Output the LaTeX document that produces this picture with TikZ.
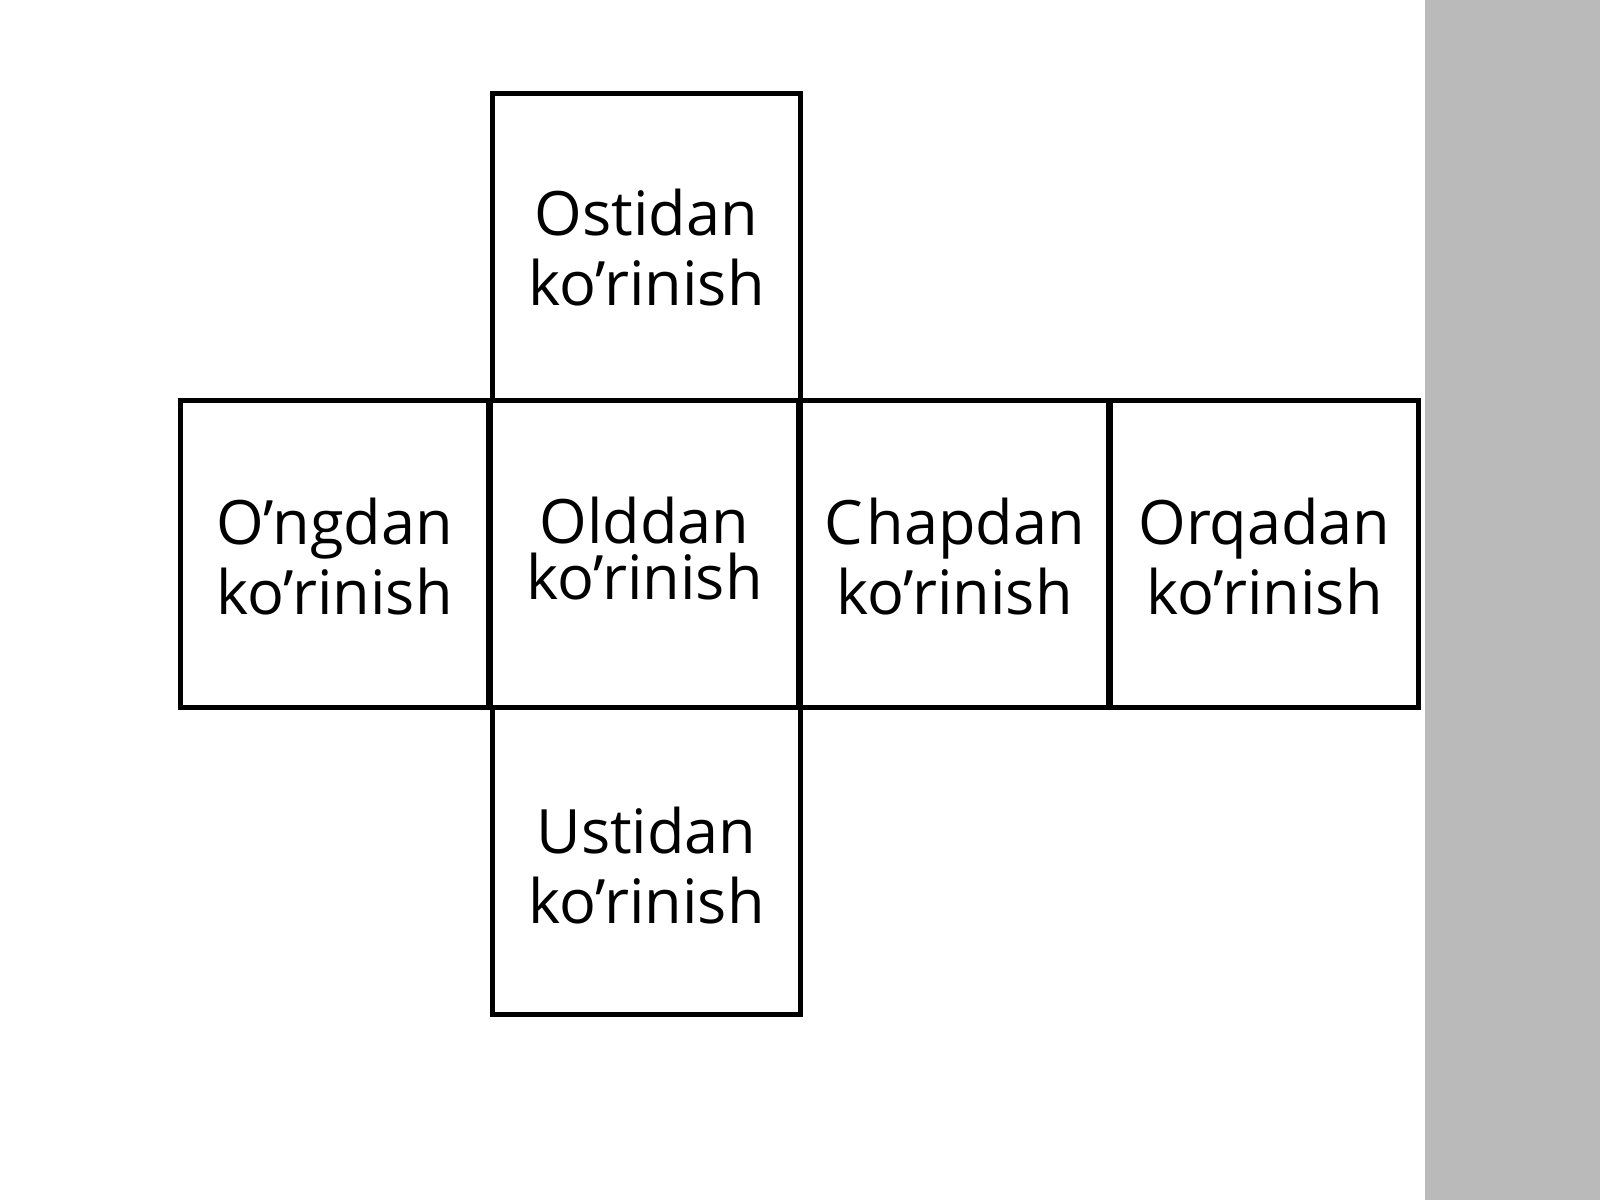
\documentclass[tikz,border=0pt]{standalone}
\usepackage{fontspec}
\setmainfont{Open Sans}
\definecolor{stripgray}{RGB}{186,186,186}
\begin{document}
\begin{tikzpicture}[x=0.5pt,y=-0.5pt,
  facebox/.style={draw=black,line width=2.5pt,minimum width=154pt,minimum height=153.5pt,inner sep=0pt,anchor=north west},
  facetext/.style={align=center,inner sep=0pt,font=\fontsize{30.6pt}{35pt}\selectfont},
  tighttext/.style={align=center,inner sep=0pt,font=\fontsize{30.6pt}{28pt}\selectfont}]
\useasboundingbox (0,0) rectangle (1600,1200);
\fill[white] (0,0) rectangle (1600,1200);
\fill[stripgray] (1425,0) rectangle (1600,1200);
% boxes
\node[facebox] (top) at (490,90.5) {};
\node[facebox] (right) at (178,398) {};
\node[facebox] (front) at (488,398) {};
\node[facebox] (left) at (798,398) {};
\node[facebox] (back) at (1108,398) {};
\node[facebox] (bottom) at (490,705) {};
% texts
\node[facetext] (ttop) at ([yshift=-0.7pt]top.center) {Ostidan\\ko’rinish};
\node[facetext] (tright) at ([yshift=-1.5pt]right.center) {O’ngdan\\ko’rinish};
\node[tighttext] (tfront) at ([yshift=2.5pt]front.center) {Olddan\\ko’rinish};
\node[facetext] (tleft) at ([yshift=-1.5pt]left.center) {C\kern2pt hapdan\\ko’rinish};
\node[facetext] (tback) at ([yshift=-1.5pt]back.center) {Orqadan\\ko’rinish};
\node[facetext] (tbottom) at ([yshift=-2.5pt]bottom.center) {Ustidan\\ko’rinish};
\end{tikzpicture}
\end{document}
